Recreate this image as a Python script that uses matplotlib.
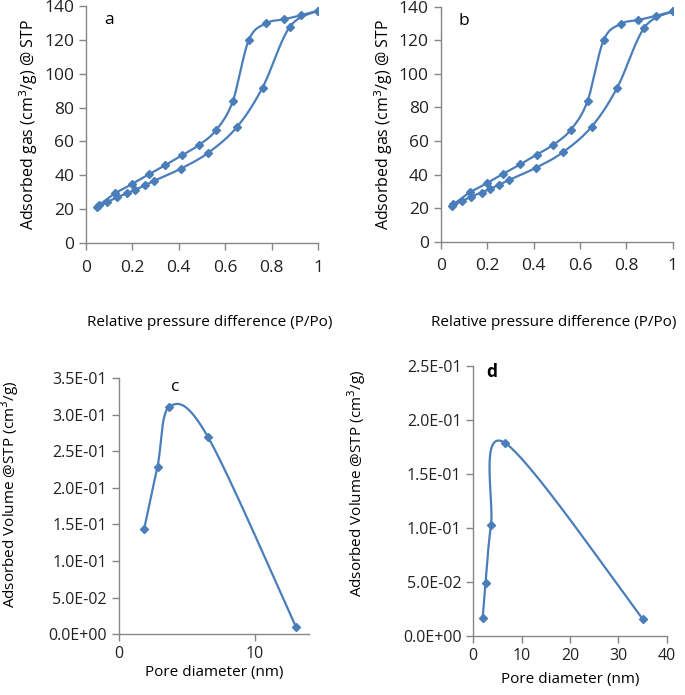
import numpy as np
import matplotlib
matplotlib.use('Agg')
import matplotlib.pyplot as plt
from matplotlib.ticker import FuncFormatter

# Isotherm data (panels a and b share the same points)
ads_p = [0.049, 0.092, 0.132, 0.176, 0.213, 0.253, 0.295, 0.41, 0.527, 0.65, 0.761, 0.878, 1.0]
ads_v = [21.2, 24.2, 26.9, 29.3, 31.5, 34.0, 36.8, 44.0, 53.3, 68.4, 91.8, 127.6, 137.2]
des_p = [1.0, 0.927, 0.852, 0.777, 0.702, 0.633, 0.561, 0.486, 0.414, 0.342, 0.270, 0.199, 0.127, 0.055]
des_v = [137.2, 134.5, 132.1, 129.8, 120.0, 83.8, 66.7, 57.8, 51.9, 46.0, 40.5, 34.8, 29.5, 22.2]

# Pore size distributions
c_d = [1.87, 2.85, 3.73, 6.54, 13.02]
c_v = [0.1438, 0.229, 0.311, 0.270, 0.010]
d_d = [1.93, 2.55, 3.66, 6.48, 35.0]
d_v = [0.0164, 0.0494, 0.1028, 0.179, 0.0160]

BLUE = '#4A7EBB'
GREY = '#868686'
W, H = 685, 695

plt.rcParams['font.family'] = ['Open Sans', 'DejaVu Sans']


def smooth(x, y, n=40):
    # Excel-like smoothed line: uniform Catmull-Rom through the points
    p = np.column_stack([x, y]).astype(float)
    p = np.vstack([p[0], p, p[-1]])
    out = []
    for i in range(1, len(p) - 2):
        p0, p1, p2, p3 = p[i - 1], p[i], p[i + 1], p[i + 2]
        t = np.linspace(0, 1, n)[:, None]
        seg = 0.5 * ((2 * p1) + (-p0 + p2) * t + (2 * p0 - 5 * p1 + 4 * p2 - p3) * t ** 2
                     + (-p0 + 3 * p1 - 3 * p2 + p3) * t ** 3)
        out.append(seg)
    out = np.vstack(out)
    return out[:, 0], out[:, 1]


def box(l, r, t, b):
    return [l / W, 1 - b / H, (r - l) / W, (b - t) / H]


def style(ax, size=11):
    for s in ['top', 'right']:
        ax.spines[s].set_visible(False)
    for s in ['left', 'bottom']:
        ax.spines[s].set_color(GREY)
        ax.spines[s].set_linewidth(1.0)
    ax.tick_params(colors=GREY, labelcolor='#222222', labelsize=size, length=5, width=1.0, direction='out')


def series(ax, x, y):
    sx, sy = smooth(x, y)
    ax.plot(sx, sy, color=BLUE, lw=1.6, zorder=2)
    ax.plot(x, y, ls='none', marker='D', ms=4.5, color=BLUE, zorder=3)


fig = plt.figure(figsize=(6.85, 6.95), dpi=100)

iso_boxes = [box(86, 318, 6, 243), box(440.7, 672.7, 6.7, 241.7)]
for k, (bx, lab) in enumerate(zip(iso_boxes, ['a', 'b'])):
    ax = fig.add_axes(bx)
    series(ax, ads_p, ads_v)
    series(ax, des_p, des_v)
    ax.set_xlim(0, 1)
    ax.set_ylim(0, 140)
    ax.set_xticks(np.arange(0, 1.01, 0.2))
    ax.set_yticks(np.arange(0, 141, 20))
    ax.xaxis.set_major_formatter(FuncFormatter(lambda v, pos: '0' if v == 0 else ('1' if v == 1 else f'{v:.1f}')))
    style(ax, 12.5)
    ax.tick_params(axis='x', pad=7)
    ax.set_ylabel('Adsorbed gas (cm$^3$/g) @ STP', fontsize=11.5, labelpad=3)
    ax.text(0.1, 0.94, lab, transform=ax.transAxes, fontsize=12.5, ha='center', va='center')
    cx = [210, 554][k]
    fig.text(cx / W, 1 - 322 / H, 'Relative pressure difference (P/Po)', fontsize=11,
             ha='center', va='center')

sci = FuncFormatter(lambda v, pos: f'{v:.1E}')

ax = fig.add_axes(box(118.7, 309.3, 378, 634.3))
series(ax, c_d, c_v)
ax.set_xlim(0, 14)
ax.set_ylim(0, 0.35)
ax.set_xticks([0, 10])
ax.set_yticks(np.arange(0, 0.351, 0.05))
ax.yaxis.set_major_formatter(sci)
style(ax, 11.5)
ax.set_xlabel('Pore diameter (nm)', fontsize=11, labelpad=2)
fig.text(10 / W, 1 - 494 / H, 'Adsorbed Volume @STP (cm$^3$/g)', fontsize=11, rotation=90,
         ha='center', va='center')
fig.text(175 / W, 1 - 387 / H, 'c', fontsize=12.5, ha='center', va='center')

ax = fig.add_axes(box(473.3, 666.7, 366, 636))
series(ax, d_d, d_v)
ax.set_xlim(0, 40)
ax.set_ylim(0, 0.25)
ax.set_xticks(np.arange(0, 41, 10))
ax.set_yticks(np.arange(0, 0.251, 0.05))
ax.yaxis.set_major_formatter(sci)
style(ax, 11.5)
ax.set_xlabel('Pore diameter (nm)', fontsize=11, labelpad=6)
fig.text(357 / W, 1 - 483 / H, 'Adsorbed Volume @STP (cm$^3$/g)', fontsize=11, rotation=90,
         ha='center', va='center')
fig.text(492 / W, 1 - 372 / H, 'd', fontsize=12.5, fontweight='bold', ha='center', va='center')

fig.savefig('out.png', dpi=100, facecolor='white')
